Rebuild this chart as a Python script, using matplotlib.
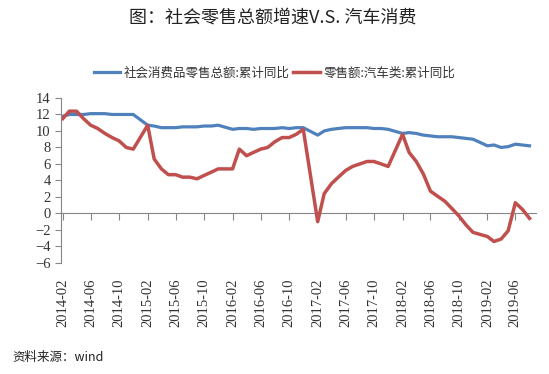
import pandas as pd
import matplotlib
matplotlib.use("Agg")
import matplotlib.pyplot as plt

plt.rcParams['font.family'] = ['Noto Sans CJK SC', 'DejaVu Sans']
plt.rcParams['axes.unicode_minus'] = True

# monthly data, Jan-Feb reported together so January is missing
dates = [d for d in pd.date_range('2014-02-01', '2019-08-01', freq='MS') if d.month != 1]

retail_total = [
    11.8, 12.0, 12.0, 12.0, 12.1, 12.1, 12.1, 12.0, 12.0, 12.0, 12.0,   # 2014
    10.7, 10.6, 10.4, 10.4, 10.4, 10.5, 10.5, 10.5, 10.6, 10.6, 10.7,   # 2015
    10.2, 10.3, 10.3, 10.2, 10.3, 10.3, 10.3, 10.4, 10.3, 10.4, 10.4,   # 2016
    9.5, 10.0, 10.2, 10.3, 10.4, 10.4, 10.4, 10.4, 10.3, 10.3, 10.2,    # 2017
    9.7, 9.8, 9.7, 9.5, 9.4, 9.3, 9.3, 9.3, 9.2, 9.1, 9.0,              # 2018
    8.2, 8.3, 8.0, 8.1, 8.4, 8.3, 8.2,                                  # 2019
]
retail_auto = [
    11.5, 12.4, 12.4, 11.5, 10.7, 10.3, 9.7, 9.2, 8.8, 8.0, 7.8,
    10.7, 6.6, 5.4, 4.7, 4.7, 4.4, 4.4, 4.2, 4.6, 5.0, 5.4,
    5.4, 7.8, 7.0, 7.4, 7.8, 8.0, 8.7, 9.2, 9.2, 9.6, 10.2,
    -1.0, 2.4, 3.6, 4.4, 5.2, 5.7, 6.0, 6.3, 6.3, 6.0, 5.7,
    9.6, 7.4, 6.3, 4.8, 2.7, 2.1, 1.5, 0.6, -0.3, -1.4, -2.3,
    -2.8, -3.4, -3.1, -2.1, 1.3, 0.5, -0.6,
]
label_total = '社会消费品零售总额:累计同比'
label_auto = '零售额:汽车类:累计同比'
tick_dates = pd.date_range('2014-02-01', '2019-08-01', freq='4MS')

fig = plt.figure(figsize=(5.49, 3.74), dpi=100)
ax = fig.add_axes([0.111, 0.297, 0.865, 0.441])

ax.plot(dates, retail_total, color='#4F81BD', lw=2.3, label=label_total)
ax.plot(dates, retail_auto, color='#C0504D', lw=2.5, label=label_auto)

ax.set_ylim(-6, 14)
ax.set_yticks(range(-6, 15, 2))
ax.set_xlim(pd.Timestamp('2014-01-24'), pd.Timestamp('2019-08-28'))

gray = '#868686'
for s in ['top', 'right', 'bottom']:
    ax.spines[s].set_visible(False)
ax.spines['left'].set_color(gray)
ax.tick_params(axis='y', color=gray, length=4, width=0.8, labelsize=10.5,
               labelfontfamily='Liberation Serif', labelcolor='#333333')

# date labels along the bottom
ax.set_xticks(tick_dates)
ax.set_xticklabels([d.strftime('%Y-%m') for d in tick_dates], rotation=90)
ax.tick_params(axis='x', length=0, pad=11, labelsize=10.5,
               labelfontfamily='Liberation Serif', labelcolor='#333333')

# axis line with tick marks at zero
zero = ax.secondary_xaxis(6 / 20)
zero.set_xticks(tick_dates)
zero.set_xticklabels([])
zero.spines['bottom'].set_color(gray)
zero.tick_params(axis='x', color=gray, length=5, width=0.8, direction='out')

fig.text(0.497, 0.952, '图：社会零售总额增速V.S. 汽车消费', ha='center', va='center',
         fontsize=13, fontweight='light', color='#222222')
leg = fig.legend(loc='center', bbox_to_anchor=(0.5, 0.805), ncol=2, frameon=False,
                 fontsize=9, handlelength=2.1, handletextpad=0.3, columnspacing=0.3)
for t in leg.get_texts():
    t.set_color('#333333')
fig.text(0.022, 0.043, '资料来源：wind', ha='left', va='center', fontsize=9, color='#222222')

fig.savefig('out.png', dpi=100)
